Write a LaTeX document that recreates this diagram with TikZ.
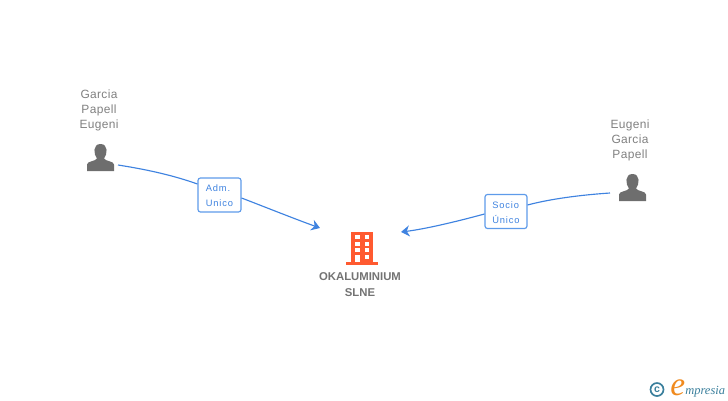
\documentclass[tikz,border=0pt]{standalone}
\usepackage{fontspec}
\setmainfont{Liberation Sans}
\newfontfamily\logofont{Liberation Serif}
\newfontfamily\spacedfont[LetterSpace=9]{Liberation Sans}
\newfontfamily\namefont[LetterSpace=3]{Liberation Sans}
\usepackage{tikz}
\usetikzlibrary{arrows.meta}
\definecolor{linkblue}{HTML}{3F83E0}
\definecolor{boxblue}{HTML}{5E9BEA}
\definecolor{namegray}{HTML}{808080}
\definecolor{icongray}{HTML}{6E6E6E}
\definecolor{firmorange}{HTML}{FF5A30}
\definecolor{logoteal}{HTML}{3A7F9C}
\definecolor{logoorange}{HTML}{F08A1E}
\tikzset{
    px/.style={x=0.02cm, y=-0.02cm},
    personname/.style={text=namegray, font=\namefont\fontsize{6.8}{8.5}\selectfont, align=center},
    rolebox/.style={draw=boxblue, fill=white, line width=0.65pt, rounded corners=1.4pt, text=linkblue,
        font=\spacedfont\fontsize{5.3}{8.6}\selectfont, align=left, inner sep=0pt},
    link/.style={draw=linkblue, line width=0.65pt},
    linkarrow/.style={link, -{Stealth[length=1.7mm, width=2.2mm]}},
}
\newcommand{\personicon}[1]{
    \fill[icongray, shift={(#1)}] (-13.5, 13.5) -- (-13.5, 7) .. controls (-13.5, 3.5) and (-5, 4) .. (-3.5, 1)
        .. controls (-7, -3) and (-8, -13.5) .. (0, -13.5) .. controls (8, -13.5) and (7, -3) .. (3.5, 1)
        .. controls (5, 4) and (13.5, 3.5) .. (13.5, 7) -- (13.5, 13.5) -- cycle;
}
\begin{document}
\begin{tikzpicture}[px]
    \useasboundingbox (0, 0) rectangle (728, 400);
    % people
    \personicon{100.5, 157.5}
    \personicon{632.5, 187.5}
    \node[personname] (garcia) at (99, 110.5) {Garcia\\Papell\\Eugeni};
    \node[personname] (eugeni) at (630, 140.5) {Eugeni\\Garcia\\Papell};
    \coordinate (garciaend) at (118, 165);
    \coordinate (eugeniend) at (610, 193);
    % firm
    \fill[firmorange] (351, 232) rectangle (373, 262);
    \fill[firmorange] (346, 262) rectangle (378, 265);
    \foreach \y in {235.3, 241.8, 248.2} {
        \fill[white] (355, \y) rectangle (359.5, \y + 4);
        \fill[white] (364.7, \y) rectangle (369.2, \y + 4);
    }
    \fill[white] (355, 254.7) rectangle (359.5, 262);
    \fill[white] (364.7, 254.7) rectangle (369.2, 259.2);
    \node[font=\bfseries\fontsize{6.45}{9}\selectfont, text=namegray!90!black, align=center] (firm) at (360, 284.5) {OKALUMINIUM\\SLNE};
    \coordinate (firmleft) at (320, 228);
    \coordinate (firmright) at (401, 232);
    % roles
    \node[rolebox, minimum width=43*0.02cm, minimum height=34*0.02cm] (adm) at (219.5, 195) {\rule{0pt}{5pt}Adm.\\Unico};
    \node[rolebox, minimum width=42*0.02cm, minimum height=34*0.02cm] (socio) at (506, 211.5) {\rule{0pt}{5pt}Socio\\Único};
    \draw[link] (garciaend) .. controls (150, 170) and (175, 176) .. (adm.west |- 0, 184);
    \draw[linkarrow] (adm.east |- 0, 198) .. controls (265, 207) and (295, 219) .. (firmleft);
    \draw[link] (eugeniend) .. controls (580, 195) and (550, 199) .. (socio.east |- 0, 205);
    \draw[linkarrow] (socio.west |- 0, 214) .. controls (455, 222) and (425, 229) .. (firmright);
    % logo
    \node[circle, draw=logoteal, line width=0.95pt, text=logoteal, inner sep=0pt, minimum size=13*0.02cm,
        font=\fontsize{6}{6}\selectfont\bfseries] (copy) at (657, 389.5) {c};
    \node[anchor=base west, inner sep=0pt, text=logoorange, font=\logofont\itshape\fontsize{19}{19}\selectfont] (logoe) at (670, 395) {e};
    \node[anchor=base west, inner sep=0pt, text=logoteal, font=\logofont\itshape\fontsize{7.1}{8}\selectfont] (logotext) at (685, 394) {mpresia};
\end{tikzpicture}
\end{document}
